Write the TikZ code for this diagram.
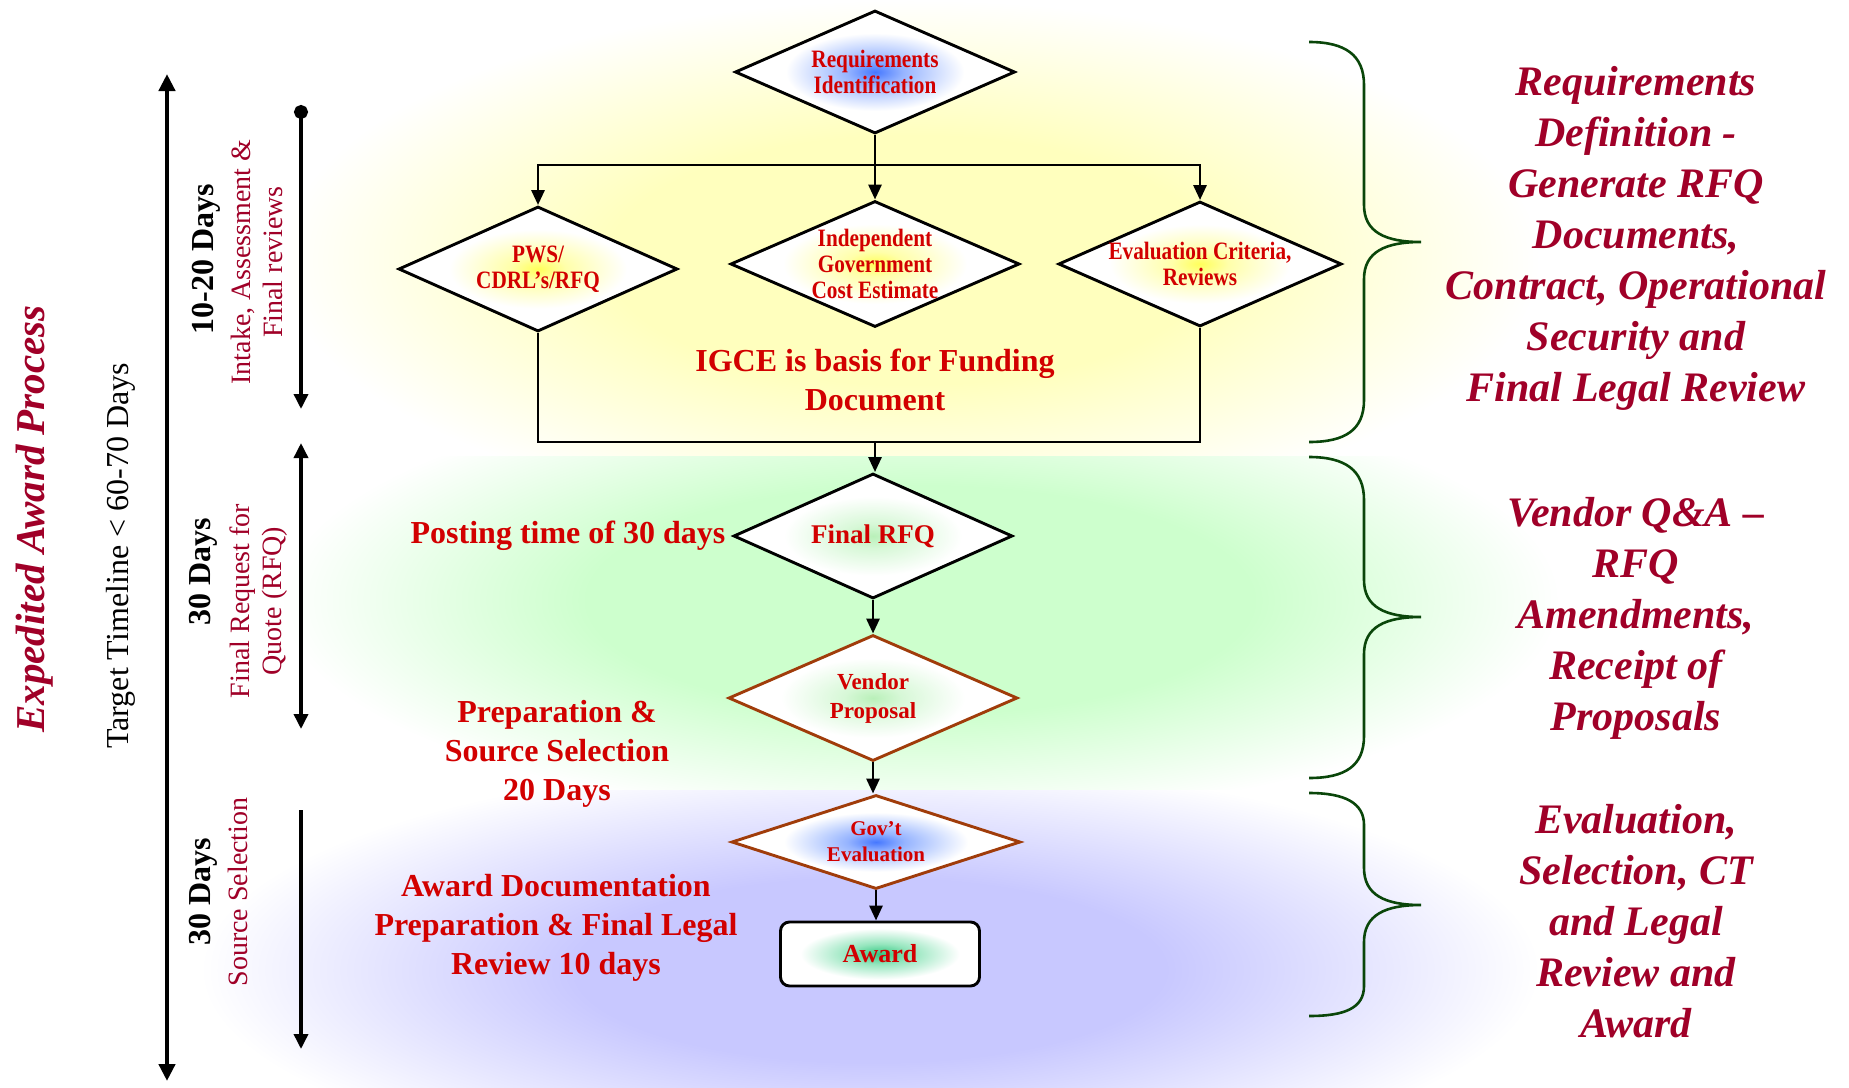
\documentclass[tikz,border=0pt]{standalone}
\usepackage{fontspec}
\setmainfont{Liberation Serif}
\newfontfamily\condf[FakeStretch=0.85]{Liberation Serif}
\usetikzlibrary{shapes.geometric,arrows.meta}
\definecolor{dred}{RGB}{210,0,0}
\definecolor{crim}{RGB}{160,0,40}
\definecolor{bgreen}{RGB}{10,70,10}
\definecolor{brownl}{RGB}{160,60,10}
\definecolor{bgy}{RGB}{255,255,190}
\definecolor{bgg}{RGB}{205,255,205}
\definecolor{bgb}{RGB}{200,200,255}
\definecolor{gb}{RGB}{70,120,255}
\definecolor{gbm}{RGB}{150,180,255}
\definecolor{gy}{RGB}{255,255,90}
\definecolor{gym}{RGB}{255,255,170}
\definecolor{gg}{RGB}{185,240,185}
\definecolor{ggm}{RGB}{215,248,215}
\definecolor{ga}{RGB}{50,200,130}
\definecolor{gam}{RGB}{150,230,190}
\pgfdeclareradialshading{bgyell}{\pgfpoint{0bp}{0bp}}{color(0bp)=(bgy); color(12bp)=(bgy); color(25bp)=(white); color(50bp)=(white)}
\pgfdeclareradialshading{bggreen}{\pgfpoint{0bp}{0bp}}{color(0bp)=(bgg); color(13bp)=(bgg); color(25bp)=(white); color(50bp)=(white)}
\pgfdeclareradialshading{bgblue}{\pgfpoint{0bp}{0bp}}{color(0bp)=(bgb); color(11bp)=(bgb); color(25bp)=(white); color(50bp)=(white)}
\pgfdeclareradialshading{glowblue}{\pgfpoint{0bp}{0bp}}{color(0bp)=(gb); color(5bp)=(gbm); color(16bp)=(white); color(50bp)=(white)}
\pgfdeclareradialshading{glowyel}{\pgfpoint{0bp}{0bp}}{color(0bp)=(gy); color(5bp)=(gym); color(16bp)=(white); color(50bp)=(white)}
\pgfdeclareradialshading{glowgreen}{\pgfpoint{0bp}{0bp}}{color(0bp)=(gg); color(5bp)=(ggm); color(16bp)=(white); color(50bp)=(white)}
\pgfdeclareradialshading{glowaward}{\pgfpoint{0bp}{0bp}}{color(0bp)=(ga); color(8bp)=(gam); color(20bp)=(white); color(50bp)=(white)}
\tikzset{ttip/.tip={Triangle[length=15pt,width=14pt]}}
\begin{document}
\begin{tikzpicture}[x=1pt,y=-1pt,
  conn/.style={line width=2.9pt},
  arr/.style={conn,-{Triangle[length=15pt,width=13pt]}},
  dia/.style={diamond, draw, line width=2.9pt, inner sep=0pt, shape aspect=2.3, align=center, text=dred, shade,
     font=\condf\bfseries\fontsize{25}{26}\selectfont},
  browndia/.style={dia, draw=brownl},
  tl/.style={line width=3.5pt},
  daysl/.style={rotate=90, font=\bfseries\fontsize{32}{34}\selectfont},
  redl/.style={rotate=90, text=crim, align=center, font=\fontsize{28}{32}\selectfont},
  note/.style={text=dred, align=center, font=\bfseries\fontsize{32}{39}\selectfont},
  side/.style={text=crim, align=center, font=\bfseries\itshape\fontsize{42}{51}\selectfont},
  brace/.style={draw=bgreen, line width=2.6pt}]
\useasboundingbox (0,0) rectangle (1849,1087);
\fill[white] (0,0) rectangle (1849,1087);
% backgrounds
\begin{scope}
  \clip (0,0) rectangle (1849,456);
  \shade[shading=bgyell] (280,0) rectangle (1540,520);
\end{scope}
\begin{scope}
  \clip (0,456) rectangle (1849,790);
  \shade[shading=bggreen] (280,380) rectangle (1560,820);
\end{scope}
\begin{scope}
  \clip (0,790) rectangle (1849,1087);
  \shade[shading=bgblue] (200,760) rectangle (1540,1180);
\end{scope}

% flow nodes
\node[dia, shading=glowblue, minimum width=280pt, minimum height=123pt] (req) at (875,72) {Requirements\\Identification};
\node[dia, shading=glowyel, minimum width=279pt, minimum height=125pt] (pws) at (538,269) {PWS/\\CDRL’s/RFQ};
\node[dia, shading=glowyel, minimum width=289pt, minimum height=126pt] (igce) at (875,264) {Independent\\Government\\Cost Estimate};
\node[dia, shading=glowyel, minimum width=279pt, minimum height=125pt] (eval) at (1200,264) {Evaluation Criteria,\\Reviews};
\node[note] (igcenote) at (875,380) {IGCE is basis for Funding\\Document};
\node[dia, shading=glowgreen, minimum width=279pt, minimum height=125pt, font=\bfseries\fontsize{27}{29}\selectfont] (rfq) at (873,536) {Final RFQ};
\node[note] (posting) at (568,536) {Posting time of 30 days};
\node[browndia, shading=glowgreen, minimum width=289pt, minimum height=126pt, font=\bfseries\fontsize{23}{29}\selectfont] (vendor) at (873,698) {Vendor\\Proposal};
\node[browndia, shading=glowblue, shape aspect=3.07, minimum width=289pt, minimum height=94pt, font=\bfseries\fontsize{21}{26}\selectfont] (gov) at (876,842) {Gov’t\\Evaluation};
\node[draw, rounded corners=9pt, line width=2.9pt, minimum width=199pt, minimum height=64pt, shade, shading=glowaward,
  text=dred, font=\bfseries\fontsize{26}{28}\selectfont] (award) at (880,954) {Award};
\node[note] (prep) at (557,754) {Preparation \&\\Source Selection\\20 Days};
\node[note] (awdoc) at (556,928) {Award Documentation\\Preparation \& Final Legal\\Review 10 days};

% connectors
\coordinate (split) at (875,165);
\coordinate (join) at (875,442);
\draw[arr] (req.south) -- (igce.north);
\draw[arr] (split) -| (pws.north);
\draw[arr] (split) -| (eval.north);
\draw[conn] (pws.south) |- (join);
\draw[conn] (eval.south) |- (join);
\draw[arr] (join) -- (join |- rfq.north);
\draw[arr] (rfq.south) -- (vendor.north);
\draw[arr] (vendor.south) -- (vendor.south |- gov.north);
\draw[arr] (gov.south) -- (gov.south |- award.north);

% left timeline
\node[rotate=90, text=crim, font=\bfseries\itshape\fontsize{41}{44}\selectfont] (title) at (35,519) {Expedited Award Process};
\node[rotate=90, font=\fontsize{32}{36}\selectfont] (target) at (121,556) {Target Timeline < 60-70 Days};
\coordinate (bigtop) at (167,74);
\coordinate (bigbot) at (167,1081);
\draw[line width=4.5pt, {Triangle[length=17pt,width=16pt]}-{Triangle[length=17pt,width=16pt]}] (bigtop) -- (bigbot);

\coordinate (t1a) at (301,105); \coordinate (t1b) at (301,409);
\coordinate (t2a) at (301,443); \coordinate (t2b) at (301,729);
\coordinate (t3a) at (301,810); \coordinate (t3b) at (301,1049);
\draw[tl, {Circle[length=14pt]}-{ttip}] (t1a) -- (t1b);
\draw[tl, {ttip}-{ttip}] (t2a) -- (t2b);
\draw[tl, -{ttip}] (t3a) -- (t3b);

\node[daysl] (d1) at (206,259) {10-20 Days};
\node[redl] (l1) at (257,262) {Intake, Assessment \&\\Final reviews};
\node[daysl] (d2) at (203,572) {30 Days};
\node[redl] (l2) at (259,601) {Final Request for\\Quote (RFQ)};
\node[daysl] (d3) at (203,892) {30 Days};
\node[redl] (l3) at (238,892) {Source Selection};

% braces
\draw[brace] (1309,42) .. controls (1345,42) and (1364,55) .. (1364,85) -- (1364,205) .. controls (1364,232) and (1385,242) .. (1421,242) .. controls (1385,242) and (1364,252) .. (1364,279) -- (1364,400) .. controls (1364,430) and (1345,442) .. (1309,442);
\draw[brace] (1309,457) .. controls (1345,457) and (1364,470) .. (1364,500) -- (1364,580) .. controls (1364,607) and (1385,617) .. (1421,617) .. controls (1385,617) and (1364,627) .. (1364,654) -- (1364,736) .. controls (1364,766) and (1345,778) .. (1309,778);
\draw[brace] (1309,793) .. controls (1345,793) and (1364,803) .. (1364,825) -- (1364,868) .. controls (1364,895) and (1385,905) .. (1421,905) .. controls (1385,905) and (1364,915) .. (1364,942) -- (1364,986) .. controls (1364,1008) and (1345,1016) .. (1309,1016);

% right texts
\node[side] (s1) at (1636,238) {Requirements\\Definition -\\Generate RFQ\\Documents,\\Contract, Operational\\Security and\\Final Legal Review};
\node[side] (s2) at (1636,618) {Vendor Q\&A –\\RFQ\\Amendments,\\Receipt of\\Proposals};
\node[side] (s3) at (1636,921) {Evaluation,\\Selection, CT\\and Legal\\Review and\\Award};
\end{tikzpicture}
\end{document}
